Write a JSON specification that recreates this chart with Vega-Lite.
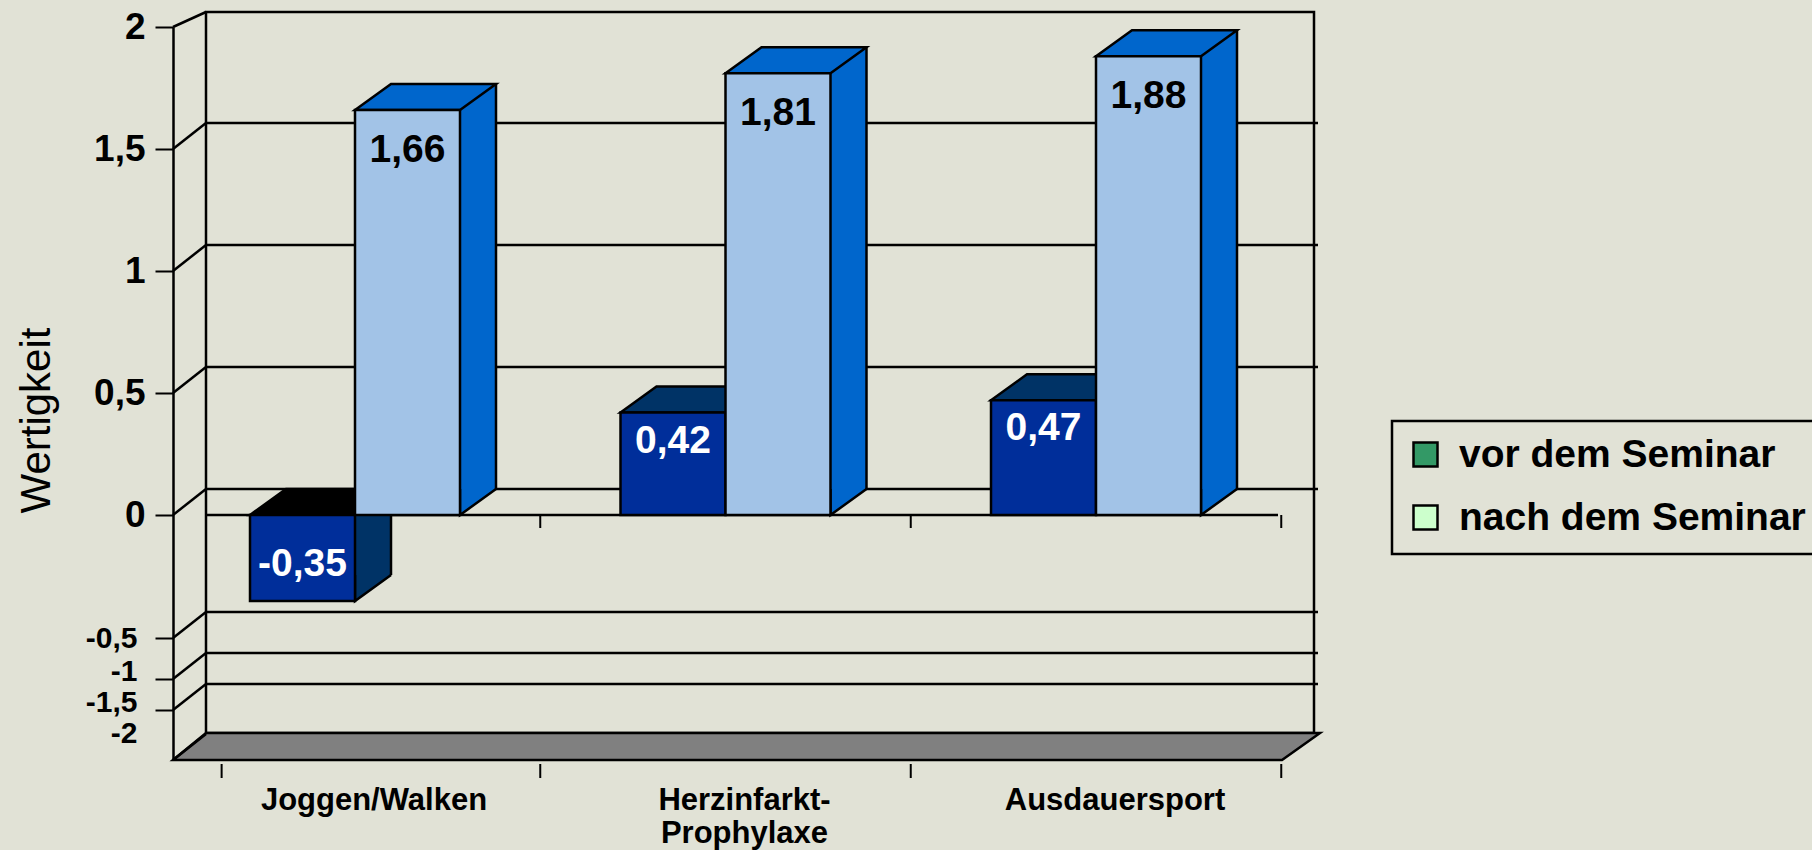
{
  "$schema": "https://vega.github.io/schema/vega-lite/v6.json",
  "width": 1108,
  "height": 721,
  "autosize": {"type": "none"},
  "padding": {"left": 206, "top": 12, "right": 498, "bottom": 117},
  "background": "#E1E2D6",
  "config": {
    "view": {"stroke": "black", "strokeWidth": 2.5},
    "axis": {"grid": false},
    "locale": {"number": {"decimal": ",", "thousands": ".", "grouping": [3], "currency": ["", " €"], "minus": "-"}},
    "legend": {"strokeWidth": 2.5}
  },
  "datasets": {
    "balken": [
      {"Kategorie": "Joggen/Walken", "Zeitpunkt": "vor dem Seminar", "Wert": -0.35},
      {"Kategorie": "Joggen/Walken", "Zeitpunkt": "nach dem Seminar", "Wert": 1.66},
      {"Kategorie": "Herzinfarkt-Prophylaxe", "Zeitpunkt": "vor dem Seminar", "Wert": 0.42},
      {"Kategorie": "Herzinfarkt-Prophylaxe", "Zeitpunkt": "nach dem Seminar", "Wert": 1.81},
      {"Kategorie": "Ausdauersport", "Zeitpunkt": "vor dem Seminar", "Wert": 0.47},
      {"Kategorie": "Ausdauersport", "Zeitpunkt": "nach dem Seminar", "Wert": 1.88}
    ],
    "skala": [{"v": -2}, {"v": -1.5}, {"v": -1}, {"v": -0.5}, {"v": 0}, {"v": 0.5}, {"v": 1}, {"v": 1.5}, {"v": 2}]
  },
  "data": {"name": "balken"},
  "layer": [
    {
      "data": {"values": [{}]},
      "mark": {"type": "point", "shape": "M-587,0 L-554,-27 L560,-27 L522,0 Z", "size": 4, "filled": true, "fill": "#808080", "stroke": "black", "strokeWidth": 2.5, "opacity": 1},
      "encoding": {"y": {"datum": -2, "type": "quantitative"}}
    },
    {
      "data": {"name": "skala"},
      "transform": [{"filter": "datum.v > -2 && datum.v < 2"}],
      "mark": {"type": "rule", "color": "black", "stroke": "black", "strokeWidth": 2.5, "yOffset": -26, "xOffset": 4},
      "encoding": {"y": {"field": "v", "type": "quantitative"}}
    },
    {
      "data": {"name": "skala"},
      "transform": [{"filter": "datum.v < 2"}],
      "mark": {"type": "rule", "color": "black", "stroke": "black", "strokeWidth": 2.5, "xOffset": -33, "y2Offset": -26},
      "encoding": {"x": {"value": 0}, "x2": {"value": 0}, "y": {"field": "v", "type": "quantitative"}, "y2": {"field": "v"}}
    },
    {
      "data": {"values": [{}]},
      "mark": {"type": "rule", "color": "black", "stroke": "black", "strokeWidth": 2.5, "xOffset": -33, "y2Offset": -15},
      "encoding": {"x": {"value": 0}, "x2": {"value": 0}, "y": {"datum": 2, "type": "quantitative"}, "y2": {"datum": 2}}
    },
    {
      "data": {"values": [{}]},
      "mark": {"type": "rule", "color": "black", "stroke": "black", "strokeWidth": 2.5, "xOffset": -36, "x2Offset": -33},
      "encoding": {"y": {"datum": 0, "type": "quantitative"}}
    },
    {
      "transform": [{"filter": "datum.Zeitpunkt == 'nach dem Seminar'"}],
      "mark": {"type": "rule", "color": "black", "stroke": "black", "strokeWidth": 2, "y2Offset": 13},
      "encoding": {"x": {"field": "Kategorie", "type": "nominal", "bandPosition": 1}, "y": {"datum": 0, "type": "quantitative"}, "y2": {"datum": 0}}
    },
    {
      "transform": [{"filter": "datum.Zeitpunkt == 'nach dem Seminar'"}],
      "mark": {"type": "rule", "color": "black", "stroke": "black", "strokeWidth": 2, "yOffset": 4, "y2Offset": 18},
      "encoding": {"x": {"field": "Kategorie", "type": "nominal", "bandPosition": 1}, "y": {"datum": -2, "type": "quantitative"}, "y2": {"datum": -2}}
    },
    {
      "transform": [{"filter": "datum.Zeitpunkt == 'nach dem Seminar' && datum.Kategorie == 'Joggen/Walken'"}],
      "mark": {"type": "rule", "color": "black", "stroke": "black", "strokeWidth": 2, "yOffset": 4, "y2Offset": 18},
      "encoding": {"x": {"field": "Kategorie", "type": "nominal", "bandPosition": 0.14}, "y": {"datum": -2, "type": "quantitative"}, "y2": {"datum": -2}}
    },
    {
      "transform": [{"filter": "datum.Zeitpunkt == 'vor dem Seminar'"}],
      "mark": {"type": "bar", "width": 105, "xOffset": -16.5, "yOffset": -26, "y2Offset": -26, "fill": "#003366", "strokeWidth": 0},
      "encoding": {"x": {"field": "Kategorie", "type": "nominal"}, "y": {"field": "Wert", "type": "quantitative"}, "y2": {"datum": 0}}
    },
    {
      "transform": [{"filter": "datum.Zeitpunkt == 'vor dem Seminar' && datum.Wert < 0"}],
      "mark": {"type": "point", "shape": "M0,-26 L0,0 L36,-26", "size": 4, "filled": true, "fill": "#003366", "stroke": "black", "strokeWidth": 2.5, "opacity": 1},
      "encoding": {"x": {"field": "Kategorie", "type": "nominal"}, "y": {"field": "Wert", "type": "quantitative"}}
    },
    {
      "transform": [{"filter": "datum.Zeitpunkt == 'vor dem Seminar'"}],
      "mark": {"type": "rule", "color": "black", "stroke": "black", "strokeWidth": 2.5, "xOffset": 36, "yOffset": -26, "y2Offset": -26},
      "encoding": {"x": {"field": "Kategorie", "type": "nominal"}, "y": {"field": "Wert", "type": "quantitative"}, "y2": {"datum": 0}}
    },
    {
      "transform": [{"filter": "datum.Zeitpunkt == 'vor dem Seminar' && datum.Wert >= 0"}],
      "mark": {"type": "point", "shape": "M0,0 L36,-26 L141,-26 L105,0 Z", "size": 4, "filled": true, "fill": "#003366", "stroke": "black", "strokeWidth": 2.5, "opacity": 1, "xOffset": -105},
      "encoding": {"x": {"field": "Kategorie", "type": "nominal"}, "y": {"field": "Wert", "type": "quantitative"}}
    },
    {
      "transform": [{"filter": "datum.Zeitpunkt == 'vor dem Seminar' && datum.Wert < 0"}],
      "mark": {"type": "point", "shape": "M0,0 L36,-26 L141,-26 L105,0 Z", "size": 4, "filled": true, "fill": "#000000", "stroke": "black", "strokeWidth": 2.5, "opacity": 1, "xOffset": -105},
      "encoding": {"x": {"field": "Kategorie", "type": "nominal"}, "y": {"datum": 0, "type": "quantitative"}}
    },
    {
      "transform": [{"filter": "datum.Zeitpunkt == 'vor dem Seminar'"}],
      "mark": {"type": "bar", "width": 105, "xOffset": -52.5, "fill": "#002E9A", "stroke": "black", "strokeWidth": 2.5},
      "encoding": {
        "x": {
          "field": "Kategorie", "type": "nominal",
          "scale": {"type": "band", "domain": ["Joggen/Walken", "Herzinfarkt-Prophylaxe", "Ausdauersport"], "range": [-36.25, 1075.25], "paddingInner": 0, "paddingOuter": 0},
          "axis": {
            "orient": "bottom", "offset": 30, "domain": false, "title": null, "zindex": 1,
            "ticks": false, "tickSize": 0,
            "labelFont": "Liberation Sans", "labelFontWeight": "bold", "labelFontSize": 31, "labelColor": "black",
            "labelAngle": 0, "labelAlign": "center", "labelPadding": 22, "labelOffset": 19, "labelBaseline": "top", "labelLineHeight": 33,
            "labelLimit": 500, "labelOverlap": false, "labelBound": false, "labelFlush": false,
            "labelExpr": "datum.label == 'Herzinfarkt-Prophylaxe' ? ['Herzinfarkt-', 'Prophylaxe'] : datum.label"
          }
        },
        "y": {
          "field": "Wert", "type": "quantitative",
          "scale": {"type": "linear", "domain": [-2, -1.5, -1, -0.5, 0, 2], "range": [748, 698, 667, 626, 503, 15], "nice": false, "zero": false, "clamp": false},
          "axis": {
            "values": [-2, -1.5, -1, -0.5, 0, 0.5, 1, 1.5, 2],
            "format": "~g",
            "orient": "left", "offset": 33, "zindex": 1, "grid": false,
            "domainColor": "black", "domainWidth": 2.5,
            "tickColor": "black", "tickWidth": 2, "tickSize": 18,
            "tickOpacity": {"condition": {"test": "datum.value == -2", "value": 0}, "value": 1},
            "labelFont": "Liberation Sans", "labelFontWeight": "bold", "labelColor": "black",
            "labelFontSize": {"condition": {"test": "datum.value < 0", "value": 30}, "value": 37},
            "labelPadding": {"condition": {"test": "datum.value < 0", "value": 18}, "value": 10},
            "labelOffset": {"condition": [{"test": "datum.value == -2", "value": -27}, {"test": "datum.value == -1 || datum.value == -1.5", "value": -8}], "value": 0},
            "labelOverlap": false, "labelBound": false, "labelFlush": false,
            "title": "Wertigkeit", "titleFont": "Liberation Sans", "titleFontWeight": "normal", "titleFontSize": 42, "titleColor": "black",
            "titleX": -124, "titleY": 408, "titleAngle": -90, "titleAlign": "center", "titleBaseline": "alphabetic"
          }
        },
        "y2": {"datum": 0}
      }
    },
    {
      "transform": [{"filter": "datum.Zeitpunkt == 'vor dem Seminar' && datum.Wert >= 0"}],
      "mark": {"type": "text", "font": "Liberation Sans", "fontWeight": "bold", "fontSize": 39, "color": "white", "fill": "white", "align": "center", "baseline": "middle", "xOffset": -52.5, "dy": 28},
      "encoding": {"x": {"field": "Kategorie", "type": "nominal"}, "y": {"field": "Wert", "type": "quantitative"}, "text": {"field": "Wert", "type": "quantitative", "format": ".2f"}}
    },
    {
      "transform": [{"filter": "datum.Zeitpunkt == 'vor dem Seminar' && datum.Wert < 0"}],
      "mark": {"type": "text", "font": "Liberation Sans", "fontWeight": "bold", "fontSize": 39, "color": "white", "fill": "white", "align": "center", "baseline": "middle", "xOffset": -52.5, "dy": -37},
      "encoding": {"x": {"field": "Kategorie", "type": "nominal"}, "y": {"field": "Wert", "type": "quantitative"}, "text": {"field": "Wert", "type": "quantitative", "format": ".2f"}}
    },
    {
      "transform": [{"filter": "datum.Zeitpunkt == 'nach dem Seminar'"}],
      "mark": {"type": "bar", "width": 105, "xOffset": 88.5, "yOffset": -26, "y2Offset": -26, "fill": "#0066CC", "strokeWidth": 0},
      "encoding": {"x": {"field": "Kategorie", "type": "nominal"}, "y": {"field": "Wert", "type": "quantitative"}, "y2": {"datum": 0}}
    },
    {
      "transform": [{"filter": "datum.Zeitpunkt == 'nach dem Seminar'"}],
      "mark": {"type": "point", "shape": "M0,-26 L0,0 L36,-26", "size": 4, "filled": true, "fill": "#0066CC", "stroke": "black", "strokeWidth": 2.5, "opacity": 1, "xOffset": 105},
      "encoding": {"x": {"field": "Kategorie", "type": "nominal"}, "y": {"datum": 0, "type": "quantitative"}}
    },
    {
      "transform": [{"filter": "datum.Zeitpunkt == 'nach dem Seminar'"}],
      "mark": {"type": "rule", "color": "black", "stroke": "black", "strokeWidth": 2.5, "xOffset": 141, "yOffset": -26, "y2Offset": -26},
      "encoding": {"x": {"field": "Kategorie", "type": "nominal"}, "y": {"field": "Wert", "type": "quantitative"}, "y2": {"datum": 0}}
    },
    {
      "transform": [{"filter": "datum.Zeitpunkt == 'nach dem Seminar'"}],
      "mark": {"type": "point", "shape": "M0,0 L36,-26 L141,-26 L105,0 Z", "size": 4, "filled": true, "fill": "#0066CC", "stroke": "black", "strokeWidth": 2.5, "opacity": 1, "xOffset": 0},
      "encoding": {"x": {"field": "Kategorie", "type": "nominal"}, "y": {"field": "Wert", "type": "quantitative"}}
    },
    {
      "transform": [{"filter": "datum.Zeitpunkt == 'nach dem Seminar'"}],
      "mark": {"type": "bar", "width": 105, "xOffset": 52.5, "fill": "#A2C3E7", "stroke": "black", "strokeWidth": 2.5},
      "encoding": {"x": {"field": "Kategorie", "type": "nominal"}, "y": {"field": "Wert", "type": "quantitative"}, "y2": {"datum": 0}}
    },
    {
      "transform": [{"filter": "datum.Zeitpunkt == 'nach dem Seminar'"}],
      "mark": {"type": "text", "font": "Liberation Sans", "fontWeight": "bold", "fontSize": 39, "color": "black", "fill": "black", "align": "center", "baseline": "middle", "xOffset": 52.5, "dy": 40},
      "encoding": {"x": {"field": "Kategorie", "type": "nominal"}, "y": {"field": "Wert", "type": "quantitative"}, "text": {"field": "Wert", "type": "quantitative", "format": ".2f"}}
    },
    {
      "mark": {"type": "point", "shape": "square", "filled": true, "opacity": 0},
      "encoding": {
        "x": {"field": "Kategorie", "type": "nominal"},
        "y": {"field": "Wert", "type": "quantitative"},
        "color": {
          "field": "Zeitpunkt", "type": "nominal",
          "scale": {"domain": ["vor dem Seminar", "nach dem Seminar"], "range": ["#339966", "#CCFFCC"]},
          "legend": {
            "orient": "none", "legendX": 1186, "legendY": 409,
            "title": " ", "titleOrient": "bottom", "titleFontSize": 2, "titlePadding": 0,
            "symbolType": "square", "symbolSize": 576, "symbolStrokeColor": "black", "symbolStrokeWidth": 2.5, "symbolOpacity": 1,
            "labelFont": "Liberation Sans", "labelFontWeight": "bold", "labelFontSize": 39, "labelColor": "black",
            "labelLimit": 600, "labelOffset": 14, "rowPadding": 23, "padding": 14,
            "strokeColor": "black"
          }
        }
      }
    }
  ]
}
